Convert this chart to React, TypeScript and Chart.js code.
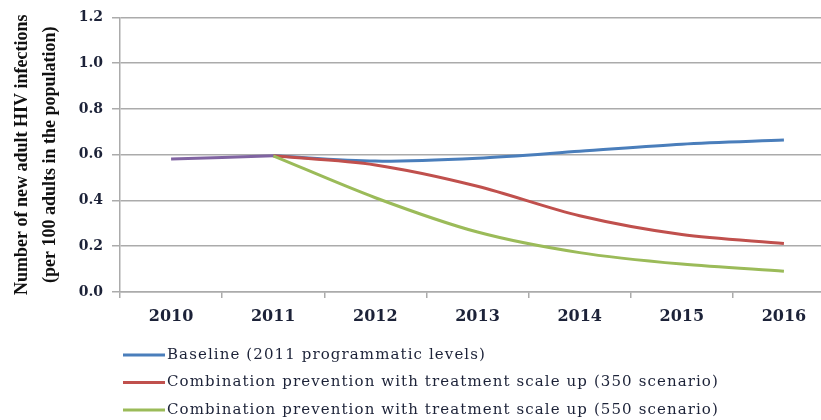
import { useEffect, useRef } from "react";
import { Chart, registerables } from "chart.js";

Chart.register(...registerables);

// Years on the horizontal axis
const years = ["2010", "2011", "2012", "2013", "2014", "2015", "2016"];

// New adult HIV infections per 100 adults
const observedTrend = [0.581, 0.595, null, null, null, null, null];
const baseline = [null, 0.595, 0.572, 0.585, 0.615, 0.646, 0.664];
const scenario350 = [null, 0.595, 0.555, 0.462, 0.333, 0.251, 0.212];
const scenario550 = [null, 0.595, 0.412, 0.262, 0.172, 0.122, 0.091];

// Vertical axis range
const yMin = 0;
const yMax = 1.2;
const yStep = 0.2;

const legendLabels = [
  "Baseline (2011 programmatic levels)",
  "Combination prevention with treatment scale up (350 scenario)",
  "Combination prevention with treatment scale up (550 scenario)",
];

const yTitle = [
  "Number of new adult HIV infections",
  "(per 100 adults in the population)",
];

const BLUE = "#4a7ebb";
const RED = "#c0504d";
const GREEN = "#9bbb59";
const PURPLE = "#8064a2";
const GRID = "#ababab";
const TEXT = "#1c2238";

// Legend drawn as stacked rows of a short line sample followed by its label
const lineLegend = {
  id: "lineLegend",
  afterDraw(chart: any) {
    const { ctx, chartArea } = chart;
    ctx.save();
    ctx.font = "15px 'DejaVu Serif'";
    ctx.textBaseline = "middle";
    ctx.textAlign = "left";
    if ("letterSpacing" in ctx) ctx.letterSpacing = "1.1px";
    let row = 0;
    chart.data.datasets.forEach((ds: any) => {
      if (!legendLabels.includes(ds.label)) return;
      const y = chartArea.bottom + 63 + row * 27.5;
      ctx.strokeStyle = ds.borderColor;
      ctx.lineWidth = 3;
      ctx.beginPath();
      ctx.moveTo(chartArea.left + 3, y);
      ctx.lineTo(chartArea.left + 45, y);
      ctx.stroke();
      ctx.fillStyle = TEXT;
      ctx.fillText(ds.label, chartArea.left + 47, y);
      row++;
    });
    ctx.restore();
  },
};

export default function App() {
  const canvasRef = useRef<HTMLCanvasElement | null>(null);

  useEffect(() => {
    if (!canvasRef.current) return;
    const line = (label: string, data: (number | null)[], color: string, order: number) => ({
      label,
      data,
      borderColor: color,
      backgroundColor: color,
      borderWidth: 3,
      pointRadius: 0,
      tension: 0.3,
      fill: false,
      order,
    });

    const chart = new Chart(canvasRef.current, {
      type: "line",
      data: {
        labels: years,
        datasets: [
          line(legendLabels[0], baseline, BLUE, 3),
          line(legendLabels[1], scenario350, RED, 2),
          line(legendLabels[2], scenario550, GREEN, 1),
          line("2010–2011", observedTrend, PURPLE, 0),
        ],
      },
      options: {
        responsive: false,
        animation: false,
        layout: { padding: { left: 0, right: 15, top: 16, bottom: 92 } },
        plugins: {
          legend: { display: false },
          tooltip: { enabled: false },
        },
        scales: {
          x: {
            offset: true,
            afterFit: (scale: any) => {
              scale.height = 36;
            },
            grid: {
              drawOnChartArea: false,
              drawTicks: true,
              tickLength: 6,
              color: GRID,
              lineWidth: 1.5,
              offset: true,
            },
            border: { display: true, color: GRID, width: 1.5 },
            ticks: {
              color: TEXT,
              padding: 9,
              maxRotation: 0,
              font: { family: "'DejaVu Serif'", size: 16, weight: "bold" },
            },
          },
          y: {
            min: yMin,
            max: yMax,
            afterFit: (scale: any) => {
              scale.width = 120;
            },
            grid: {
              color: GRID,
              lineWidth: 1.5,
              drawTicks: true,
              tickLength: 8,
            },
            border: { display: true, color: GRID, width: 1.5 },
            ticks: {
              stepSize: yStep,
              color: TEXT,
              padding: 9,
              font: { family: "'DejaVu Serif'", size: 14, weight: "bold" },
              callback: (v: any) => Number(v).toFixed(1),
            },
            title: {
              display: true,
              text: yTitle,
              color: "#111111",
              padding: { top: 8, bottom: 0 },
              font: { family: "'Liberation Serif'", size: 18, weight: "bold", lineHeight: 1.55 },
            },
          },
        },
      },
      plugins: [lineLegend],
    });

    return () => chart.destroy();
  }, []);

  return (
    <div
      style={{
        position: "fixed",
        left: 0,
        top: 0,
        width: 821,
        height: 420,
        overflow: "hidden",
        background: "#ffffff",
      }}
    >
      <canvas ref={canvasRef} width={850} height={420} style={{ display: "block" }} />
    </div>
  );
}
